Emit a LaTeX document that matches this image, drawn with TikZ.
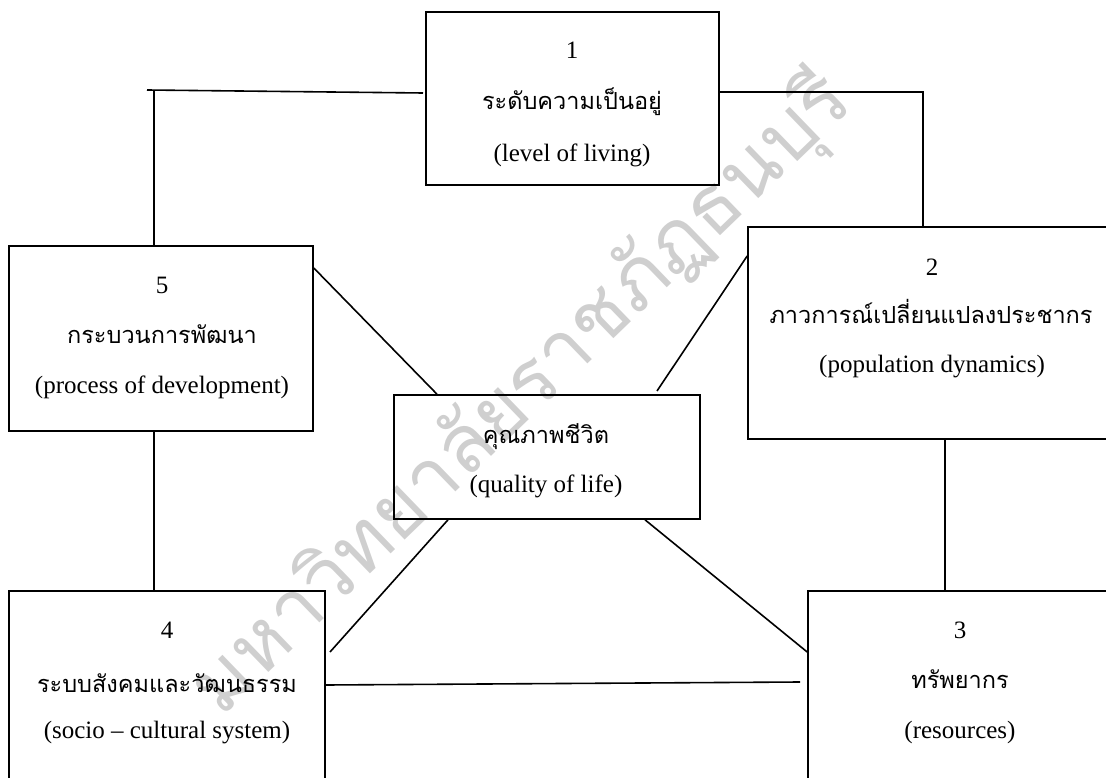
\documentclass[tikz,border=0pt]{standalone}
\usepackage{fontspec}
\setmainfont{Liberation Serif}
\newfontfamily\thaifont[Script=Thai]{Loma}
\definecolor{wmark}{HTML}{CFCFCF}
\begin{document}
\begin{tikzpicture}[x=1pt,y=-1pt,
  box/.style={draw,line width=1.6pt,inner sep=0pt},
  link/.style={line width=1.6pt},
  en/.style={font=\fontsize{25}{30}\selectfont,inner sep=0pt},
  th/.style={font=\thaifont\fontsize{23.5}{28}\selectfont,inner sep=0pt,anchor=base},
  wm/.style={font=\thaifont\fontsize{80}{90}\selectfont,text=wmark,inner sep=0pt}]
\useasboundingbox (0,0) rectangle (1106,778);
\clip (0,0) rectangle (1106,778);
% watermark
\node[wm,rotate=44] (wmk) at (522,395) {มหาวิทยาลัยราชภัฏธนบุรี};
% boxes
\node[box,minimum width=293pt,minimum height=173pt] (b1) at (572.5,98.5) {};
\node[box,minimum width=304pt,minimum height=185pt] (b5) at (161,338.5) {};
\node[box,minimum width=366pt,minimum height=212pt] (b2) at (931,333) {};
\node[box,minimum width=316pt,minimum height=209pt] (b4) at (167,695.5) {};
\node[box,minimum width=304pt,minimum height=209pt] (b3) at (960,695.5) {};
\node[box,minimum width=306pt,minimum height=124pt] (q) at (547,457) {};
% texts
\node[en] (n1) at (572,50) {1};
\node[th] (t1) at (572,110) {ระดับความเป็นอยู่};
\node[en] (e1) at (572,155) {(level of living)};
\node[en] (n5) at (162,285) {5};
\node[th] (t5) at (162,343) {กระบวนการพัฒนา};
\node[en] (e5) at (162,387) {(process of development)};
\node[en] (n2) at (932,267) {2};
\node[th] (t2) at (931,323) {ภาวการณ์เปลี่ยนแปลงประชากร};
\node[en] (e2) at (932,367) {(population dynamics)};
\node[en] (n4) at (167,630) {4};
\node[th] (t4) at (167,692) {ระบบสังคมและวัฒนธรรม};
\node[en] (e4) at (167,733) {(socio -- cultural system)};
\node[en] (n3) at (960,630) {3};
\node[th] (t3) at (960,688) {ทรัพยากร};
\node[en] (e3) at (960,732) {(resources)};
\node[th] (tq) at (546,443) {คุณภาพชีวิต};
\node[en] (eq) at (546,486) {(quality of life)};
% free ends
\coordinate (tl) at (147,90);
\coordinate (tlc) at (154,90);
\coordinate (tle) at (423,93);
\coordinate (tr) at (923,92);
\coordinate (q2e) at (657,391);
\coordinate (q4e) at (330,652);
\coordinate (h3e) at (800,682);
% connectors
\draw[link] (tl) -- (tle);
\draw[link] (tlc) -- (b5.north -| tlc);
\draw[link] (b1.east |- tr) -- (tr) -- (b2.north -| tr);
\draw[link] (b5.east |- 0,268) -- (q.north -| 437,0);
\draw[link] (b2.west |- 0,256) -- (q2e);
\draw[link] (q.south -| 448,0) -- (q4e);
\draw[link] (q.south -| 645,0) -- (b3.west |- 0,652);
\draw[link] (b5.south -| 154,0) -- (b4.north -| 154,0);
\draw[link] (b2.south -| 945,0) -- (b3.north -| 945,0);
\draw[link] (b4.east |- 0,685) -- (h3e);
\end{tikzpicture}
\end{document}
